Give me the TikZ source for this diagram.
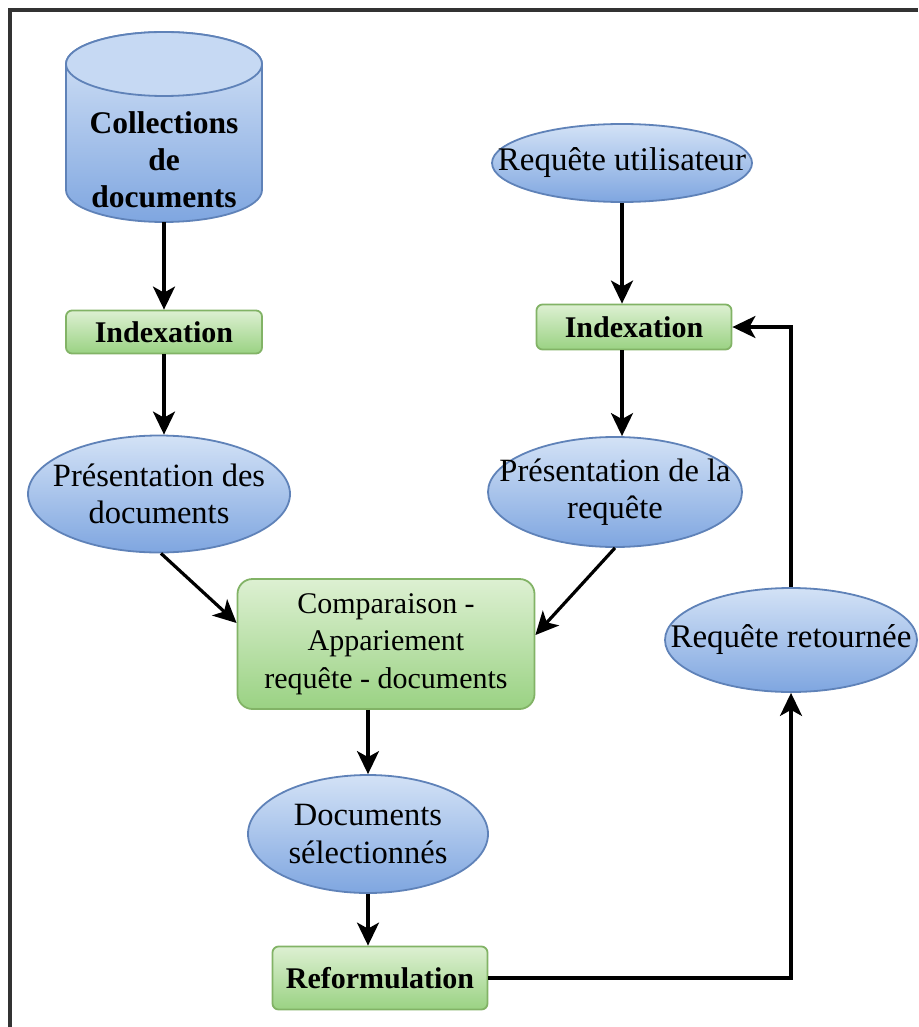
\documentclass[tikz,border=0pt]{standalone}
\usepackage{fontspec}
\setmainfont{Liberation Serif}
\usetikzlibrary{arrows.meta,calc,shapes.geometric}

\definecolor{bluetop}{HTML}{D3E2F6}
\definecolor{bluebot}{HTML}{7FA6E0}
\definecolor{blueline}{HTML}{5F82B8}
\definecolor{greentop}{HTML}{DDF0D2}
\definecolor{greenbot}{HTML}{9AD283}
\definecolor{greenline}{HTML}{82B366}
\definecolor{frame}{HTML}{333333}

\tikzset{
  blueoval/.style={ellipse, draw=blueline, line width=1.8pt,
    top color=bluetop, bottom color=bluebot, inner sep=0pt},
  ovaltext/.style={align=center, inner sep=0pt, font=\fontsize{32.5}{37.5}\selectfont},
  greenbox/.style={rectangle, draw=greenline, line width=1.8pt,
    rounded corners=6pt, top color=greentop, bottom color=greenbot,
    inner sep=0pt, align=center, font=\fontsize{30}{37.5}\selectfont},
  boldlabel/.style={font=\fontsize{30}{37}\selectfont\bfseries},
  flow/.style={line width=3.2pt, -{Stealth[length=23pt,width=22pt,inset=6pt]}},
}

\begin{document}
\begin{tikzpicture}[x=1pt,y=1pt]
\useasboundingbox (0,0) rectangle (918,-1027);

% frame (top and left edges)
\draw[frame, line width=4pt] (10,-1027) -- (10,-10) -- (918,-10);

% document store drawn as a cylinder
\path[draw=blueline, line width=1.8pt, top color=bluetop!90!white, bottom color=bluebot]
  (66,-64) -- (66,-190) arc[start angle=180,end angle=360,x radius=98pt,y radius=32pt]
  -- (262,-64) arc[start angle=0,end angle=180,x radius=98pt,y radius=32pt] -- cycle;
\path[draw=blueline, line width=1.8pt, fill=bluetop!85!bluebot]
  (164,-64) ellipse[x radius=98pt, y radius=32pt];
\node[minimum width=196pt, minimum height=190pt, inner sep=0pt] (coll) at (164,-127) {};
\node[align=center, font=\fontsize{31.5}{37}\selectfont\bfseries] (colltxt) at (164,-160)
  {Collections\\de\\documents};

% left column
\node[greenbox, boldlabel, minimum width=196pt, minimum height=43pt]
  (idx1) at (164,-332) {Indexation};
\node[blueoval, minimum width=262pt, minimum height=117pt] (pdoc) at (159,-494) {};
\node[ovaltext] (pdoctxt) at (pdoc) {Présentation des\\documents};

% right column
\node[blueoval, minimum width=260pt, minimum height=78pt] (ru) at (622,-163) {};
\node[ovaltext, font=\fontsize{33}{38}\selectfont] (rutxt) at (ru) {Requête utilisateur};
\node[greenbox, boldlabel, minimum width=195pt, minimum height=45pt]
  (idx2) at (634,-327) {Indexation};
\node[blueoval, minimum width=254pt, minimum height=110pt] (preq) at (615,-492) {};
\node[ovaltext] (preqtxt) at (preq) {Présentation de la\\requête};

% centre
\node[greenbox, rounded corners=15pt, minimum width=297pt, minimum height=130pt]
  (comp) at (386,-644) {Comparaison -\\Appariement\\requête - documents};
\node[blueoval, minimum width=240pt, minimum height=118pt] (dsel) at (368,-834) {};
\node[ovaltext] (dseltxt) at (dsel) {Documents\\sélectionnés};
\node[greenbox, boldlabel, minimum width=215pt, minimum height=63pt]
  (reform) at (380,-978) {Reformulation};
\node[blueoval, minimum width=252pt, minimum height=104pt] (rret) at (791,-640) {};
\node[ovaltext, font=\fontsize{33}{38}\selectfont] (rrettxt) at (rret) {Requête retournée};

% connectors
\draw[flow] (coll.south) -- (coll.south |- idx1.north);
\draw[flow] (idx1.south) -- (idx1.south |- pdoc.north);
\draw[flow] ([xshift=2pt]pdoc.south) -- ($(comp.west)+(0,21)$);
\draw[flow] (ru.south) -- (ru.south |- idx2.north);
\draw[flow] (idx2.south -| ru) -- (ru |- preq.north);
\draw[flow] (preq.south) -- ($(comp.east)+(0,9)$);
\draw[flow] (comp.south -| dsel) -- (dsel.north);
\draw[flow] (dsel.south) -- (dsel.south |- reform.north);
\draw[flow] (reform.east) -| (rret.south);
\draw[flow] (rret.north) |- (idx2.east);
\end{tikzpicture}
\end{document}
